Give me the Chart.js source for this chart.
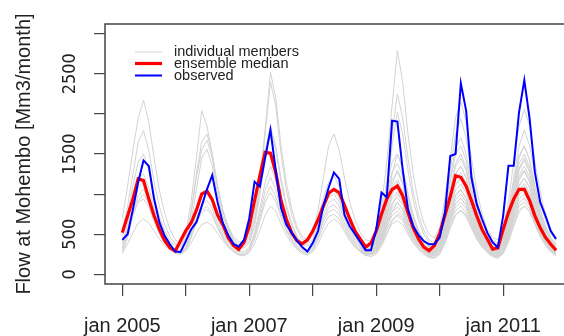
<!DOCTYPE html>
<html>
<head>
<meta charset="utf-8">
<script src="https://cdn.jsdelivr.net/npm/chart.js@4.4.0/dist/chart.umd.min.js"></script>
<style>
  html, body { margin:0; padding:0; background:#fff; overflow:hidden; }
  #wrap { width:600px; height:336px; }
</style>
</head>
<body>
<div id="wrap"><canvas id="c" width="600" height="336"></canvas></div>
<script>
// monthly series, jan 2005 .. nov 2011 (83 months)
const startMonth = 0;
const observed = [
  430, 500, 810, 1150, 1420, 1350, 940, 650, 480, 375, 285, 280,
  415, 560, 650, 850, 1060, 1235, 900, 640, 490, 380, 345, 430,
  700, 1155, 1095, 1450, 1800, 1300, 830, 620, 520, 420, 340, 285,
  390, 540, 850, 1080, 1270, 1190, 740, 600, 500, 400, 300, 300,
  560, 1020, 960, 1915, 1905, 1310, 810, 600, 490, 415, 375, 375,
  460, 770, 1475, 1500, 2380, 2040, 1210, 875, 690, 520, 400, 335,
  730, 1355, 1355, 2020, 2420, 1940, 1270, 900, 730, 540, 440
];
const median = [
  520, 730, 940, 1190, 1170, 940, 730, 560, 420, 330, 290, 420,
  545, 640, 800, 1000, 1040, 930, 740, 620, 460, 360, 310, 400,
  600, 920, 1230, 1520, 1510, 1270, 920, 690, 520, 420, 380, 430,
  540, 680, 850, 1010, 1060, 1020, 860, 690, 540, 440, 340, 390,
  540, 750, 940, 1060, 1100, 980, 770, 580, 440, 340, 295, 360,
  510, 740, 970, 1230, 1210, 1100, 920, 730, 560, 440, 315, 330,
  560, 770, 940, 1060, 1060, 920, 730, 580, 460, 375, 300
];

// members covering the whole period
const memberL1 = [
  700, 1100, 1550, 1950, 2170, 1900, 1450, 1050, 760, 560, 430, 390,
  520, 900, 1450, 2040, 1850, 1500, 1100, 800, 600, 470, 410, 400,
  480, 750, 1200, 1800, 2520, 2200, 1600, 1150, 820, 600, 470, 430,
  520, 800, 1200, 1600, 1750, 1550, 1200, 900, 680, 520, 430, 410,
  520, 850, 1400, 2100, 2790, 2400, 1750, 1250, 880, 640, 500, 450,
  580, 950, 1450, 1950, 2150, 1900, 1450, 1050, 760, 560, 460, 430,
  560, 900, 1400, 1850, 2060, 1850, 1400, 1030, 750, 560, 460
];
const memberL2 = [
  550, 850, 1250, 1650, 1790, 1550, 1150, 850, 620, 470, 380, 360,
  480, 780, 1250, 1650, 1750, 1500, 1100, 800, 590, 450, 380, 370,
  450, 700, 1100, 1750, 2400, 2100, 1500, 1050, 750, 560, 440, 400,
  480, 700, 950, 1150, 1230, 1100, 880, 680, 530, 420, 360, 340,
  430, 700, 1150, 1750, 2250, 1950, 1450, 1020, 740, 550, 430, 390,
  520, 850, 1300, 1750, 1940, 1700, 1300, 940, 690, 520, 420, 390,
  500, 800, 1200, 1600, 1800, 1600, 1250, 920, 680, 510, 420
];
const memberL3 = [
  450, 750, 1100, 1400, 1500, 1300, 980, 720, 540, 420, 350, 340,
  450, 750, 1200, 1550, 1670, 1450, 1080, 780, 570, 430, 360, 350,
  420, 650, 1050, 1550, 1850, 1600, 1200, 870, 640, 480, 390, 370,
  430, 620, 850, 1000, 1060, 950, 770, 600, 470, 380, 330, 320,
  400, 650, 1050, 1600, 2020, 1750, 1300, 920, 670, 500, 400, 370,
  480, 780, 1200, 1580, 1700, 1500, 1150, 840, 620, 470, 390, 360,
  460, 740, 1100, 1450, 1600, 1420, 1100, 810, 600, 460, 380
];
const memberL4 = [
  380, 620, 950, 1200, 1250, 1080, 820, 610, 460, 360, 310, 300,
  380, 650, 1050, 1450, 1560, 1350, 1000, 730, 540, 410, 340, 330,
  390, 600, 980, 1450, 1790, 1550, 1150, 830, 610, 460, 370, 350,
  400, 580, 820, 960, 1000, 900, 730, 570, 450, 360, 310, 300,
  360, 560, 900, 1250, 1500, 1320, 1000, 730, 540, 410, 340, 320,
  420, 680, 1050, 1380, 1500, 1330, 1020, 750, 560, 430, 350, 330,
  420, 680, 1000, 1320, 1450, 1300, 1000, 740, 550, 420, 350
];
const memberL5 = [
  330, 560, 850, 1080, 1150, 1000, 760, 570, 430, 340, 290, 280,
  340, 520, 780, 960, 1020, 900, 700, 530, 410, 330, 290, 280,
  340, 520, 820, 1150, 1350, 1180, 900, 660, 500, 390, 320, 300,
  350, 520, 740, 890, 940, 850, 690, 540, 420, 340, 290, 280,
  330, 520, 820, 1120, 1300, 1150, 880, 650, 490, 380, 320, 300,
  380, 620, 960, 1250, 1350, 1200, 920, 680, 510, 390, 320, 300,
  380, 620, 920, 1200, 1300, 1170, 900, 670, 500, 390, 320
];
const memberL6 = [
  300, 500, 780, 980, 1060, 930, 710, 530, 400, 320, 280, 270,
  320, 480, 700, 870, 920, 820, 640, 490, 380, 310, 270, 260,
  320, 490, 760, 1050, 1210, 1060, 810, 600, 460, 360, 300, 280,
  330, 490, 690, 830, 870, 790, 640, 500, 390, 320, 270, 260,
  300, 460, 720, 990, 1150, 1020, 790, 590, 450, 350, 300, 280,
  350, 560, 870, 1120, 1200, 1070, 830, 620, 470, 360, 300, 280,
  350, 570, 860, 1110, 1200, 1080, 840, 630, 470, 370, 300
];
const memberL7 = [
  260, 460, 720, 920, 1000, 880, 680, 510, 390, 310, 270, 260,
  300, 450, 650, 800, 850, 760, 600, 460, 360, 290, 250, 240,
  300, 460, 700, 960, 1100, 970, 750, 560, 430, 340, 280, 260,
  310, 460, 650, 780, 810, 740, 600, 470, 370, 300, 260, 250,
  280, 420, 640, 860, 1000, 900, 700, 530, 410, 320, 270, 250,
  320, 500, 770, 980, 1050, 940, 730, 550, 420, 330, 270, 250,
  320, 520, 800, 1020, 1100, 990, 770, 580, 440, 340, 280
];
const memberL8 = [
  400, 560, 760, 900, 940, 840, 660, 500, 390, 320, 280, 270,
  330, 470, 640, 770, 810, 730, 580, 450, 350, 290, 250, 240,
  290, 440, 660, 900, 1020, 910, 710, 540, 420, 330, 280, 260,
  300, 430, 600, 720, 750, 690, 560, 440, 350, 290, 250, 240,
  270, 390, 580, 780, 900, 810, 640, 490, 380, 300, 250, 230,
  290, 450, 690, 880, 950, 860, 670, 510, 390, 310, 260, 240,
  290, 460, 700, 890, 950, 860, 680, 520, 400, 320, 260
];
const memberL9 = [
  270, 380, 520, 640, 690, 640, 540, 440, 360, 300, 260, 250,
  290, 390, 520, 620, 650, 610, 510, 420, 340, 280, 240, 230,
  270, 380, 550, 740, 850, 790, 630, 490, 390, 310, 260, 240,
  280, 380, 530, 640, 690, 640, 530, 420, 340, 280, 240, 220,
  250, 350, 500, 660, 750, 700, 570, 440, 350, 280, 230, 210,
  260, 390, 580, 740, 800, 740, 600, 460, 360, 290, 240, 220,
  260, 400, 600, 780, 850, 790, 630, 490, 380, 300, 250
];

// members starting oct 2008 (month 45)
const shortStart = 45;
const memberS1 = [420, 360, 400,
  520, 780, 1120, 1400, 1500, 1330, 1010, 740, 550, 420, 350, 340,
  450, 730, 1150, 1500, 1600, 1420, 1080, 790, 580, 440, 360, 340,
  460, 760, 1150, 1480, 1600, 1430, 1090, 800, 590, 450, 370];
const memberS2 = [400, 340, 370,
  480, 720, 1030, 1280, 1380, 1230, 940, 700, 520, 400, 340, 320,
  420, 680, 1050, 1350, 1450, 1290, 990, 730, 540, 410, 340, 320,
  430, 700, 1060, 1380, 1500, 1340, 1030, 760, 560, 430, 350];
const memberS3 = [380, 330, 350,
  450, 670, 950, 1180, 1270, 1130, 870, 650, 490, 380, 320, 300,
  400, 640, 980, 1250, 1350, 1200, 930, 690, 510, 390, 320, 300,
  410, 660, 1000, 1300, 1420, 1270, 980, 720, 530, 410, 340];
const memberS4 = [370, 310, 330,
  420, 620, 880, 1090, 1180, 1050, 810, 610, 460, 360, 300, 290,
  380, 600, 920, 1180, 1270, 1130, 880, 650, 490, 370, 310, 290,
  390, 630, 950, 1230, 1350, 1210, 930, 690, 510, 390, 320];
const memberS5 = [350, 300, 320,
  400, 580, 820, 1010, 1100, 980, 760, 570, 430, 340, 290, 280,
  360, 570, 870, 1110, 1200, 1070, 830, 620, 460, 350, 290, 270,
  370, 600, 900, 1170, 1280, 1150, 890, 660, 490, 370, 310];
const memberS6 = [340, 290, 310,
  380, 550, 770, 950, 1030, 920, 710, 540, 410, 330, 280, 270,
  340, 540, 820, 1050, 1130, 1010, 790, 590, 440, 340, 280, 260,
  350, 570, 860, 1100, 1200, 1080, 840, 630, 470, 360, 300];
const memberS7 = [330, 280, 300,
  360, 520, 720, 890, 960, 860, 670, 510, 390, 310, 270, 260,
  320, 510, 770, 990, 1060, 950, 740, 560, 420, 320, 270, 250,
  330, 540, 820, 1050, 1130, 1020, 800, 600, 450, 340, 290];
const memberS8 = [320, 270, 290,
  340, 490, 680, 830, 900, 810, 630, 480, 370, 300, 260, 250,
  300, 480, 720, 930, 1000, 900, 700, 530, 400, 310, 260, 240,
  310, 510, 770, 990, 1060, 960, 750, 570, 430, 330, 280];
const memberS9 = [310, 260, 280,
  330, 460, 640, 780, 840, 760, 600, 460, 360, 290, 250, 240,
  290, 460, 690, 880, 950, 860, 670, 510, 390, 300, 250, 230,
  300, 490, 740, 940, 1000, 910, 710, 540, 410, 320, 270];
const memberS10 = [300, 250, 270,
  310, 430, 600, 730, 790, 720, 570, 440, 340, 280, 240, 230,
  280, 440, 660, 840, 900, 820, 640, 490, 370, 290, 240, 220,
  290, 470, 700, 890, 950, 860, 680, 520, 390, 310, 260];
const memberS11 = [290, 240, 260,
  300, 410, 560, 680, 730, 670, 530, 410, 320, 260, 220, 210,
  260, 410, 620, 790, 850, 770, 610, 460, 350, 280, 230, 210,
  280, 450, 670, 850, 900, 820, 650, 490, 370, 290, 240];
const memberS12 = [280, 230, 250,
  280, 380, 520, 630, 670, 620, 500, 390, 310, 250, 210, 200,
  250, 390, 580, 740, 790, 720, 570, 440, 340, 270, 220, 200,
  260, 420, 630, 800, 850, 780, 620, 470, 360, 280, 230];

const longMembers = [memberL1, memberL2, memberL3, memberL4, memberL5, memberL6, memberL7, memberL8, memberL9];
const shortMembers = [memberS1, memberS2, memberS3, memberS4, memberS5, memberS6, memberS7, memberS8, memberS9, memberS10, memberS11, memberS12];

// axes
const xTickValues = [0, 12, 24, 36, 48, 60, 72, 84];
const xTickLabels = ['jan 2005', '', 'jan 2007', '', 'jan 2009', '', 'jan 2011', ''];
const yTickValues = [0, 500, 1000, 1500, 2000, 2500, 3000];
const yTickLabels = ['0', '500', '', '1500', '', '2500', ''];
const legendLabels = ['individual members', 'ensemble median', 'observed'];

const FONT = '"Liberation Sans", Arial, Helvetica, sans-serif';
const NARROW = '"Liberation Sans Narrow", "DejaVu Sans Condensed", "Liberation Sans", sans-serif';
const toXY = (arr, off) => arr.map((v, i) => ({ x: off + i, y: v }));

const datasets = [];
datasets.push({ label: legendLabels[2], data: toXY(observed, startMonth), borderColor: '#0000ff', borderWidth: 2, order: 0 });
datasets.push({ label: legendLabels[1], data: toXY(median, startMonth), borderColor: '#ff0000', borderWidth: 3.2, order: 1 });
longMembers.forEach(m => datasets.push({ data: toXY(m, startMonth), borderColor: '#d3d3d3', borderWidth: 1, order: 2 }));
shortMembers.forEach(m => datasets.push({ data: toXY(m, shortStart), borderColor: '#d3d3d3', borderWidth: 1, order: 2 }));

// frame round the plot region + legend in the top left
const rPlot = {
  id: 'rPlot',
  afterDraw(chart) {
    const { ctx, chartArea: a } = chart;
    ctx.save();
    ctx.strokeStyle = '#444'; ctx.lineWidth = 1.5;
    ctx.strokeRect(a.left, a.top, a.right - a.left, a.bottom - a.top);
    const items = [
      { c: '#d3d3d3', w: 1, y: 52 },
      { c: '#ff0000', w: 3.2, y: 63.5 },
      { c: '#0000ff', w: 2, y: 75.5 }
    ];
    ctx.font = '14.5px ' + FONT; ctx.fillStyle = '#222'; ctx.textBaseline = 'middle';
    items.forEach((it, i) => {
      ctx.strokeStyle = it.c; ctx.lineWidth = it.w;
      ctx.beginPath(); ctx.moveTo(135, it.y); ctx.lineTo(162, it.y); ctx.stroke();
      ctx.fillText(legendLabels[i], 174, it.y);
    });
    ctx.restore();
  }
};

new Chart(document.getElementById('c'), {
  type: 'line',
  data: { datasets },
  plugins: [rPlot],
  options: {
    responsive: false, animation: false, devicePixelRatio: 1,
    layout: { padding: { left: 0, top: 24, right: 26.6, bottom: 0 } },
    elements: { point: { radius: 0 }, line: { tension: 0, fill: false } },
    plugins: { legend: { display: false }, tooltip: { enabled: false } },
    scales: {
      x: {
        type: 'linear', min: -3.28, max: 85.28,
        afterBuildTicks: s => { s.ticks = xTickValues.map(v => ({ value: v })); },
        afterFit: s => { s.height = 52; },
        border: { display: false },
        grid: { drawOnChartArea: false, drawTicks: true, tickLength: 12, color: '#444', lineWidth: 1.2 },
        ticks: {
          autoSkip: false, maxRotation: 0, padding: 18, color: '#222',
          font: { family: FONT, size: 20 },
          callback: (v, i) => xTickLabels[i]
        }
      },
      y: {
        type: 'linear', min: -120, max: 3120,
        afterBuildTicks: s => { s.ticks = yTickValues.map(v => ({ value: v })); },
        afterFit: s => { s.width = 105; },
        border: { display: false },
        grid: { drawOnChartArea: false, drawTicks: true, tickLength: 11, color: '#444', lineWidth: 1.2 },
        ticks: {
          autoSkip: false, minRotation: 90, maxRotation: 90, crossAlign: 'center', padding: 3, color: '#222',
          font: { family: NARROW, size: 18 },
          callback: (v, i) => yTickLabels[i]
        },
        title: {
          display: true, text: 'Flow at Mohembo [Mm3/month]', color: '#222',
          font: { family: FONT, size: 20 }, padding: { top: 12, bottom: 0 }
        }
      }
    }
  }
});
</script>
</body>
</html>
